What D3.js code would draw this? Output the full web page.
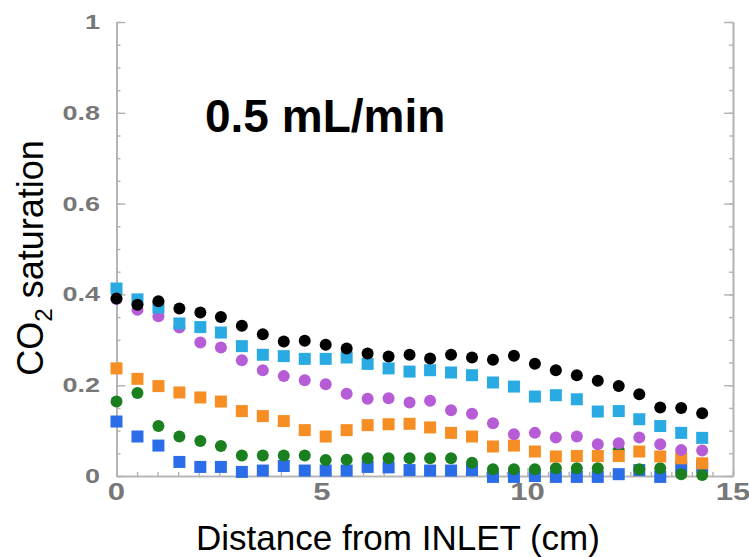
<!DOCTYPE html>
<html>
<head>
<meta charset="utf-8">
<script src="https://cdn.jsdelivr.net/npm/d3@7"></script>
<style>
  body { margin: 0; background: #fff; }
  svg { display: block; font-family: "Liberation Sans", Arial, sans-serif; }
</style>
</head>
<body>
<div id="chart"></div>
<script>
// distance from inlet (cm), one reading every ~0.5 cm
var distance = [0, 0.51, 1.02, 1.53, 2.04, 2.54, 3.05, 3.56, 4.07, 4.58, 5.09, 5.6, 6.11, 6.62, 7.13,
                7.63, 8.14, 8.65, 9.16, 9.67, 10.18, 10.69, 11.2, 11.71, 12.22, 12.72, 13.23, 13.74, 14.25]

// CO2 saturation
var blackSeries  = [0.391, 0.377, 0.385, 0.369, 0.360, 0.350, 0.331, 0.312, 0.296, 0.298, 0.289, 0.281, 0.270, 0.263, 0.267,
                    0.259, 0.267, 0.261, 0.256, 0.265, 0.247, 0.233, 0.222, 0.210, 0.198, 0.180, 0.151, 0.150, 0.138]
var cyanSeries   = [0.413, 0.389, 0.371, 0.336, 0.328, 0.316, 0.286, 0.267, 0.264, 0.258, 0.258, 0.261, 0.247, 0.237, 0.230,
                    0.233, 0.228, 0.222, 0.206, 0.197, 0.175, 0.178, 0.169, 0.142, 0.143, 0.125, 0.110, 0.095, 0.084]
var purpleSeries = [0.390, 0.366, 0.352, 0.327, 0.294, 0.283, 0.255, 0.233, 0.220, 0.211, 0.202, 0.181, 0.170, 0.171, 0.162,
                    0.166, 0.145, 0.137, 0.116, 0.092, 0.095, 0.085, 0.087, 0.070, 0.072, 0.085, 0.070, 0.057, 0.056]
var orangeSeries = [0.237, 0.214, 0.198, 0.184, 0.173, 0.164, 0.143, 0.132, 0.121, 0.101, 0.087, 0.101, 0.112, 0.114, 0.115,
                    0.107, 0.095, 0.087, 0.065, 0.067, 0.054, 0.043, 0.044, 0.044, 0.044, 0.054, 0.043, 0.039, 0.028]
var greenSeries  = [0.164, 0.183, 0.110, 0.087, 0.077, 0.066, 0.045, 0.045, 0.045, 0.045, 0.035, 0.036, 0.039, 0.039, 0.039,
                    0.039, 0.039, 0.029, 0.015, 0.015, 0.015, 0.017, 0.017, 0.017, 0.057, 0.015, 0.017, 0.004, 0.002]
var blueSeries   = [0.120, 0.087, 0.067, 0.031, 0.020, 0.020, 0.009, 0.012, 0.022, 0.012, 0.012, 0.012, 0.020, 0.019, 0.013,
                    0.012, 0.012, 0.013, -0.002, -0.002, 0, -0.002, -0.002, -0.002, 0.004, 0.013, -0.002, 0.020, 0.020]

var xTicks = [0, 5, 10, 15]
var yTicks = [0, 0.2, 0.4, 0.6, 0.8, 1]
var yTickLabels = ["0", "0.2", "0.4", "0.6", "0.8", "1"]

// drawn bottom first, so black ends up on top
var series = [
  {values: blueSeries,   color: "#2b6ce8", shape: "square"},
  {values: greenSeries,  color: "#1a7f1e", shape: "circle"},
  {values: orangeSeries, color: "#f68e24", shape: "square"},
  {values: purpleSeries, color: "#b55cd6", shape: "circle"},
  {values: cyanSeries,   color: "#29aae2", shape: "square"},
  {values: blackSeries,  color: "#000000", shape: "circle"}
]

var WIDTH = 749, HEIGHT = 557
var AXIS = "#b3b3b3", LABEL = "#777777"

var svg = d3.select("#chart").append("svg")
  .attr("width", WIDTH)
  .attr("height", HEIGHT)

var x = d3.scaleLinear().domain([0, 15]).range([116.5, 733])
var y = d3.scaleLinear().domain([0, 1]).range([476, 22])

// minor + major ticks, all pointing inward
function ticks(axis, vals, size) {
  return axis.tickValues(vals).tickSize(size).tickSizeOuter(0).tickFormat("")
}
var yMinor = d3.range(0, 1.001, 0.05)
var xMinor = d3.range(0, 15.001, 0.5)

var axes = [
  {g: "translate(116.5,0)", a: ticks(d3.axisLeft(y), yMinor, -4)},
  {g: "translate(116.5,0)", a: ticks(d3.axisLeft(y), yTicks, -9)},
  {g: "translate(733,0)",   a: ticks(d3.axisRight(y), yMinor, -4)},
  {g: "translate(733,0)",   a: ticks(d3.axisRight(y), yTicks, -9)},
  {g: "translate(0,476)",   a: ticks(d3.axisBottom(x), xMinor, -4)},
  {g: "translate(0,476)",   a: ticks(d3.axisBottom(x), xTicks, -8)}
]
axes.forEach(function(d) {
  var g = svg.append("g").attr("transform", d.g).call(d.a)
  g.selectAll("path.domain").attr("stroke", AXIS).attr("stroke-width", 1.6)
  g.selectAll("line").attr("stroke", AXIS).attr("stroke-width", 1.4)
})

// tick labels (they look horizontally stretched in the original)
svg.selectAll("text.ylab")
  .data(yTicks)
  .enter()
  .append("text")
    .attr("class", "ylab")
    .attr("transform", function(d) { return "translate(100," + (y(d) + 7) + ") scale(1.35,1)" })
    .attr("text-anchor", "end")
    .attr("font-size", "20px")
    .attr("font-weight", "bold")
    .attr("fill", LABEL)
    .text(function(d, i) { return yTickLabels[i] })

svg.selectAll("text.xlab")
  .data(xTicks)
  .enter()
  .append("text")
    .attr("class", "xlab")
    .attr("transform", function(d) { return "translate(" + x(d) + ",500) scale(1.35,1)" })
    .attr("text-anchor", "middle")
    .attr("font-size", "23px")
    .attr("font-weight", "bold")
    .attr("fill", LABEL)
    .text(function(d) { return d })

// points
series.forEach(function(s) {
  var pts = s.values.map(function(v, i) { return {x: distance[i], y: v} })
    .filter(function(d) { return d.y != null })
  if (s.shape == "circle") {
    svg.append("g").selectAll("circle")
      .data(pts)
      .enter()
      .append("circle")
        .attr("cx", function(d) { return x(d.x) })
        .attr("cy", function(d) { return y(d.y) })
        .attr("r", 6)
        .attr("fill", s.color)
  } else {
    svg.append("g").selectAll("rect")
      .data(pts)
      .enter()
      .append("rect")
        .attr("x", function(d) { return x(d.x) - 6 })
        .attr("y", function(d) { return y(d.y) - 6 })
        .attr("width", 12)
        .attr("height", 12)
        .attr("fill", s.color)
  }
})

// titles
svg.append("text")
  .attr("x", 205)
  .attr("y", 132)
  .attr("font-size", "46px")
  .attr("font-weight", "bold")
  .attr("fill", "#000")
  .text("0.5 mL/min")

svg.append("text")
  .attr("x", 398)
  .attr("y", 550)
  .attr("text-anchor", "middle")
  .attr("font-size", "35px")
  .attr("fill", "#000")
  .text("Distance from INLET (cm)")

var ylabel = svg.append("text")
  .attr("transform", "translate(43,258) rotate(-90)")
  .attr("text-anchor", "middle")
  .attr("font-size", "36px")
  .attr("fill", "#000")
ylabel.append("tspan").text("CO")
ylabel.append("tspan").attr("font-size", "24px").attr("dy", 9).text("2")
ylabel.append("tspan").attr("dy", -9).text(" saturation")
</script>
</body>
</html>
